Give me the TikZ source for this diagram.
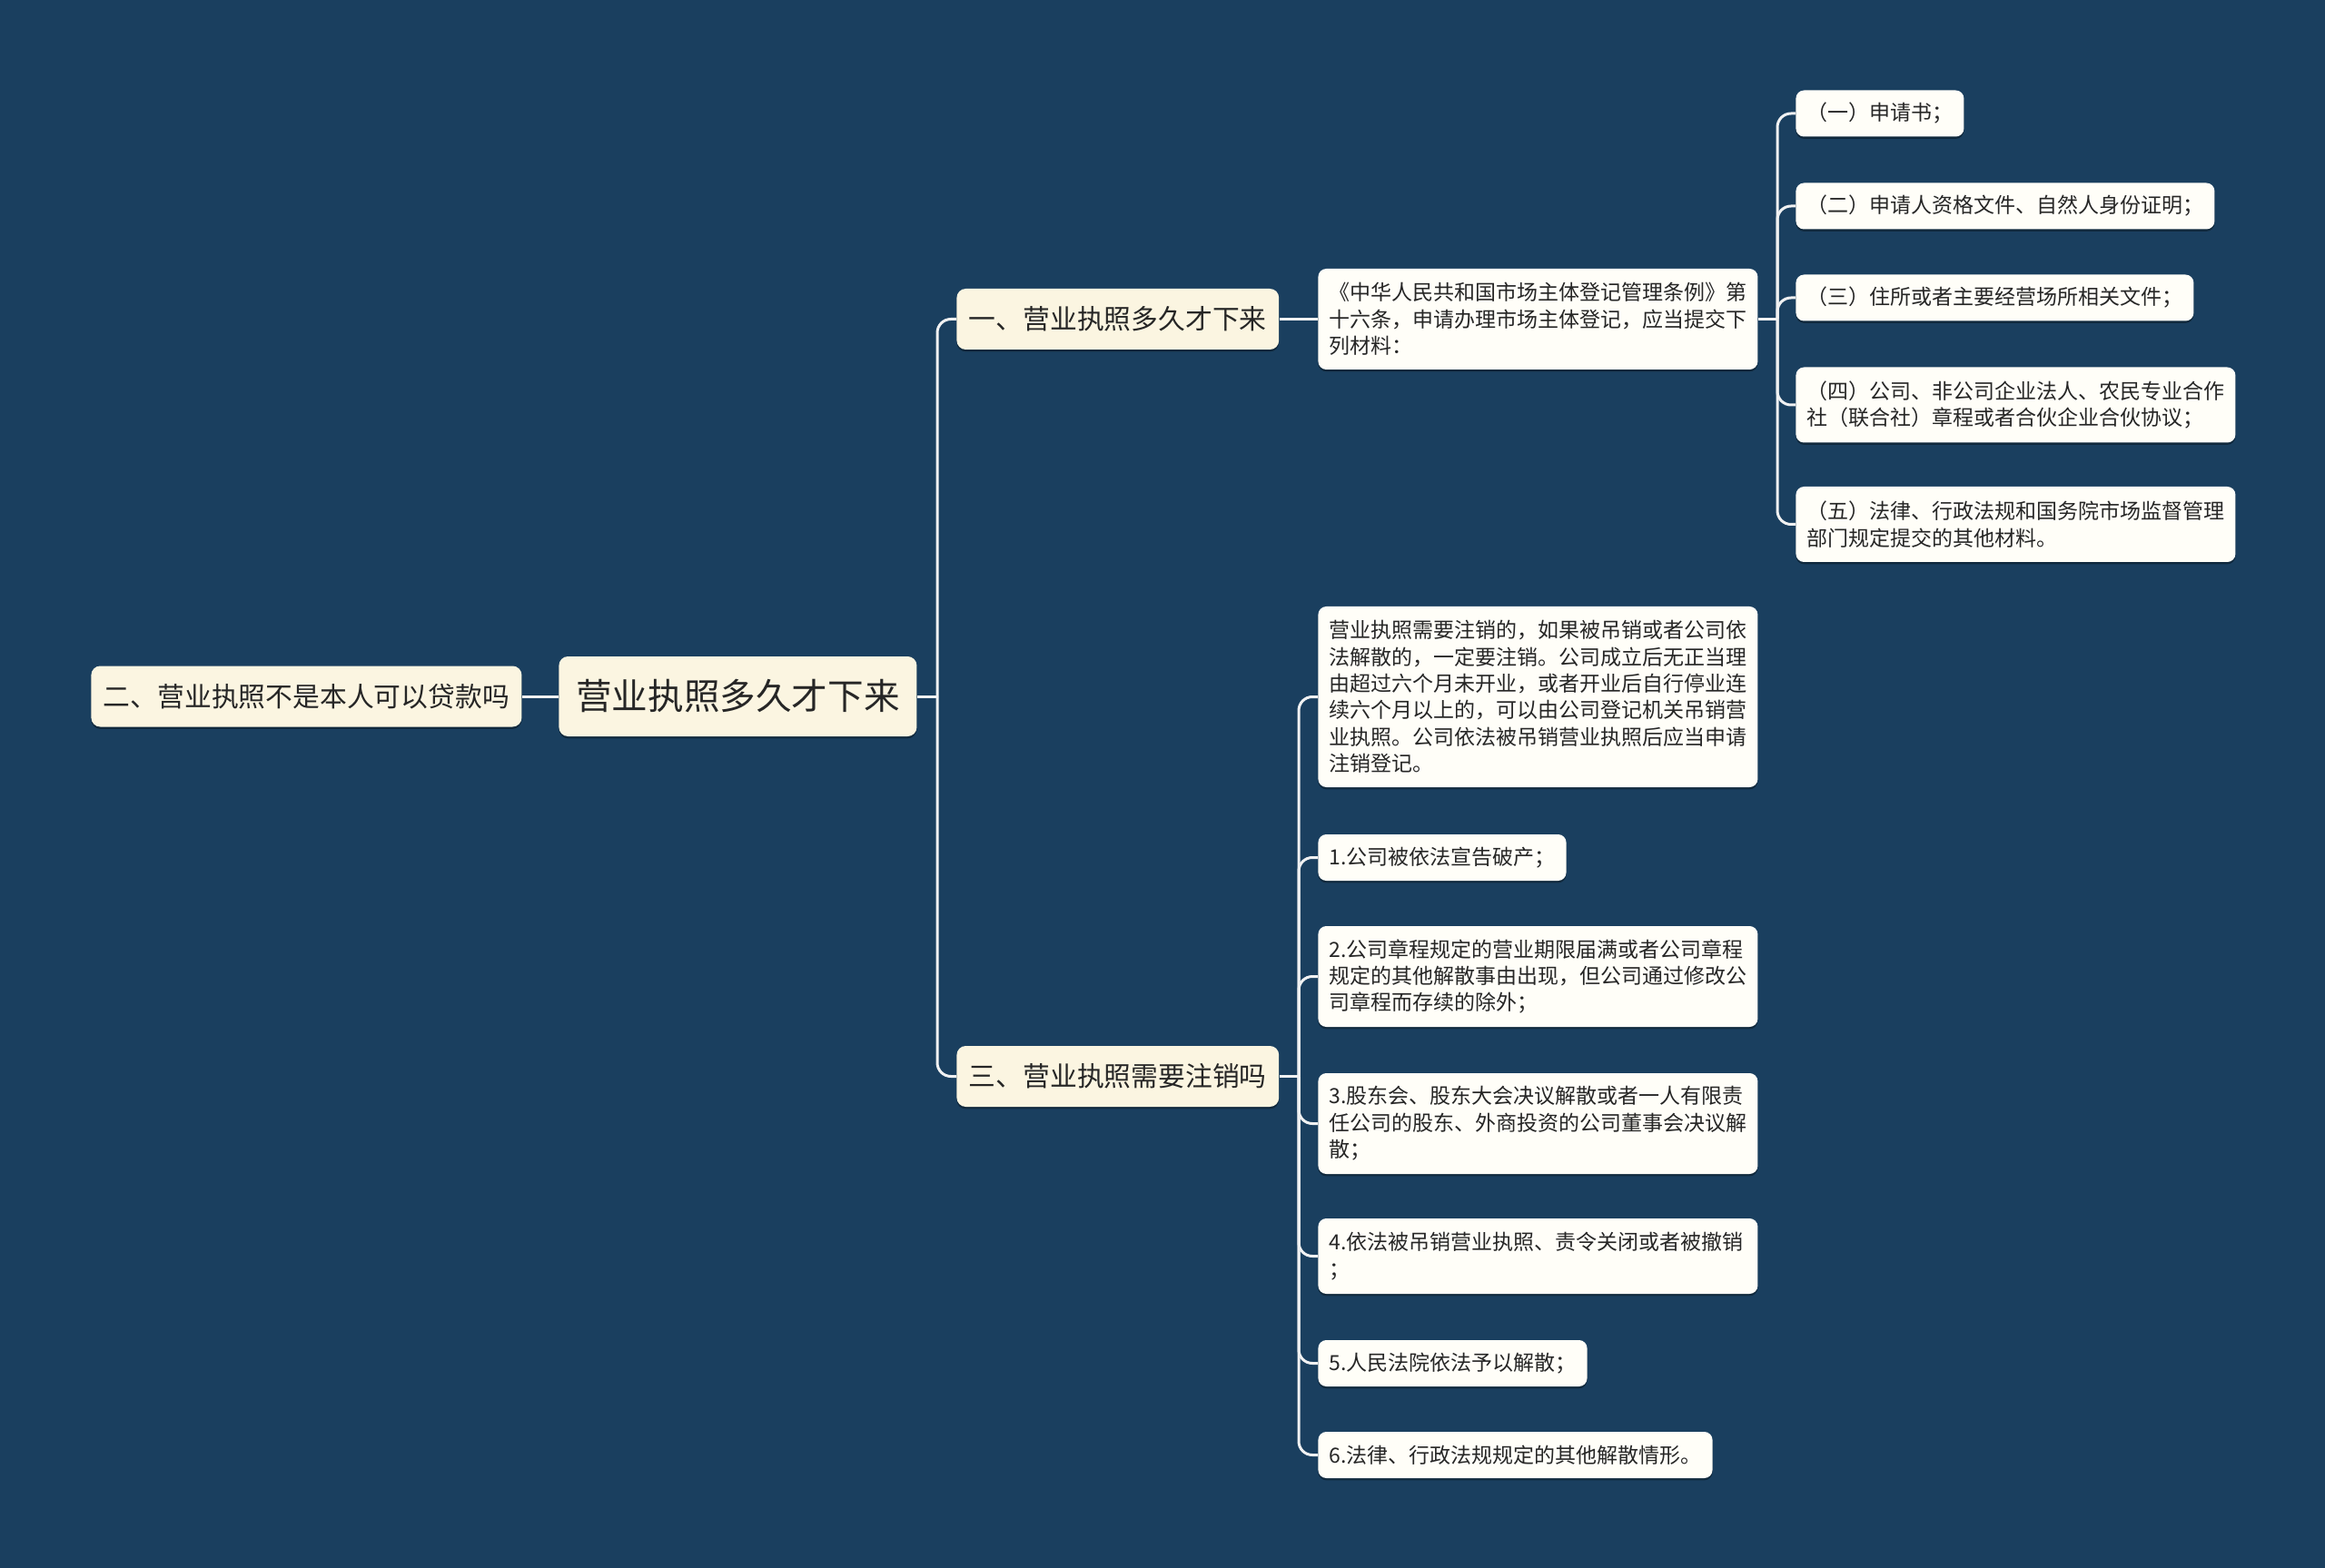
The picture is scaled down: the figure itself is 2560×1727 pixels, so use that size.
\documentclass[tikz,border=0pt]{standalone}
\usepackage{fontspec}
\setmainfont{Noto Sans CJK SC}
\usetikzlibrary{shadows}
\definecolor{bg}{HTML}{1A3F5F}
\definecolor{cream}{HTML}{FBF5E1}
\definecolor{leaffill}{HTML}{FFFEF8}
\definecolor{txt}{HTML}{262626}
\definecolor{linec}{HTML}{F0F1F2}
\tikzset{
  box/.style={anchor=west, rounded corners=5pt, text=txt, inner ysep=0pt,
    drop shadow={shadow xshift=0pt, shadow yshift=-1.2pt, opacity=0.35, fill=black}},
  mainbox/.style={box, fill=cream, font=\fontsize{14.9pt}{18pt}\selectfont,
    inner xsep=6.75pt, minimum height=33.5pt},
  rootbox/.style={box, fill=cream, font=\fontsize{19.8pt}{24pt}\selectfont,
    inner xsep=9.4pt, minimum height=44pt},
  leaf/.style={box, fill=leaffill, rounded corners=4.5pt,
    font=\fontsize{11.5pt}{14.7pt}\selectfont, inner xsep=6pt, minimum height=25.5pt},
  wide/.style={text width=230pt, align=left},
  conn/.style={draw=linec, line width=1.5pt, rounded corners=7.5pt},
}
\begin{document}
\begin{tikzpicture}[x=0.5pt,y=-0.5pt]
\fill[bg] (0,0) rectangle (2560,1727);
\useasboundingbox (0,0) rectangle (2560,1727);

% connector junction points
\coordinate (bus0) at (1032,767);
\coordinate (bus1) at (1957,351.5);
\coordinate (bus3) at (1430,1185.5);

% main level
\node[rootbox] (root) at (615,767) {营业执照多久才下来};
\node[mainbox] (L2) at (100,767) {二、营业执照不是本人可以贷款吗};
\node[mainbox] (b1) at (1053,351.5) {一、营业执照多久才下来};
\node[mainbox] (b3) at (1053,1185.5) {三、营业执照需要注销吗};

% branch one
\node[leaf, wide, minimum height=55.5pt] (t1) at (1451,351.5)
  {《中华人民共和国市场主体登记管理条例》第\\十六条，申请办理市场主体登记，应当提交下\\列材料：};
\node[leaf] (c1) at (1977,125) {（一）申请书；};
\node[leaf] (c2) at (1977,227) {（二）申请人资格文件、自然人身份证明；};
\node[leaf] (c3) at (1977,328) {（三）住所或者主要经营场所相关文件；};
\node[leaf, wide, minimum height=41.5pt] (c4) at (1977,446)
  {（四）公司、非公司企业法人、农民专业合作\\社（联合社）章程或者合伙企业合伙协议；};
\node[leaf, wide, minimum height=41.5pt] (c5) at (1977,577.5)
  {（五）法律、行政法规和国务院市场监督管理\\部门规定提交的其他材料。};

% branch three
\node[leaf, wide, minimum height=99.5pt] (t3) at (1451,767.5)
  {营业执照需要注销的，如果被吊销或者公司依\\法解散的，一定要注销。公司成立后无正当理\\由超过六个月未开业，或者开业后自行停业连\\续六个月以上的，可以由公司登记机关吊销营\\业执照。公司依法被吊销营业执照后应当申请\\注销登记。};
\node[leaf] (d1) at (1451,944.5) {1.公司被依法宣告破产；};
\node[leaf, wide, minimum height=55.5pt] (d2) at (1451,1075.5)
  {2.公司章程规定的营业期限届满或者公司章程\\规定的其他解散事由出现，但公司通过修改公\\司章程而存续的除外；};
\node[leaf, wide, minimum height=55.5pt] (d3) at (1451,1237.5)
  {3.股东会、股东大会决议解散或者一人有限责\\任公司的股东、外商投资的公司董事会决议解\\散；};
\node[leaf, wide, minimum height=41.5pt] (d4) at (1451,1383.5)
  {4.依法被吊销营业执照、责令关闭或者被撤销\\；};
\node[leaf] (d5) at (1451,1501.5) {5.人民法院依法予以解散；};
\node[leaf] (d6) at (1451,1602.5) {6.法律、行政法规规定的其他解散情形。};

% connectors
\draw[conn] (L2.east) -- (root.west);
\draw[conn] (root.east) -- (bus0);
\draw[conn] (bus0) |- (b1.west);
\draw[conn] (bus0) |- (b3.west);

\draw[conn] (b1.east) -- (t1.west);
\draw[conn] (t1.east) -- (bus1);
\foreach \c in {c1,c2,c3,c4,c5} { \draw[conn] (bus1) |- (\c.west); }

\draw[conn] (b3.east) -- (bus3);
\foreach \c in {t3,d1,d2,d3,d4,d5,d6} { \draw[conn] (bus3) |- (\c.west); }
\end{tikzpicture}
\end{document}
